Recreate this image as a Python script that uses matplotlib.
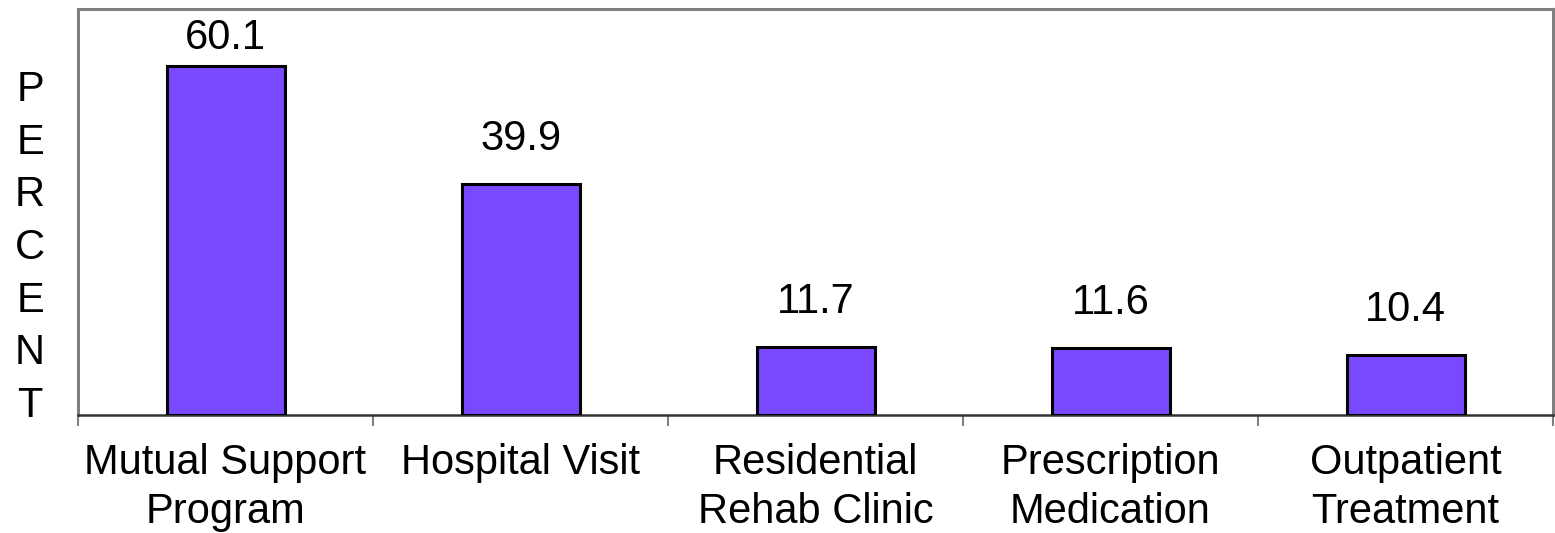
import matplotlib
matplotlib.use("Agg")
import matplotlib.pyplot as plt
import numpy as np

categories = ["Mutual Support\nProgram", "Hospital Visit", "Residential\nRehab Clinic",
              "Prescription\nMedication", "Outpatient\nTreatment"]
values = [60.1, 39.9, 11.7, 11.6, 10.4]

plt.rcParams['font.family'] = ['Liberation Sans', 'DejaVu Sans']

fig = plt.figure(figsize=(15.55, 5.33), dpi=100)
ax = fig.add_axes([78/1555, 118/533, (1553-78)/1555, (415-9)/533])

x = np.arange(len(categories))
ax.bar(x, values, width=0.40, color='#7849FF', edgecolor='black', linewidth=2.2, zorder=3)

ax.set_xlim(-0.5, len(categories) - 0.5)
ax.set_ylim(0, 70)

for xi, v in zip(x, values):
    y = min(v + 4.3, 61.5)
    ax.text(xi, y, f"{v:.1f}", ha='center', va='bottom', fontsize=30)

ax.set_xticks(x)
ax.set_xticklabels(categories, fontsize=30, va='top', linespacing=1.3)
ax.tick_params(axis='x', which='major', length=0, pad=20)
ax.set_xticks(np.arange(-0.5, len(categories)), minor=True)
ax.tick_params(axis='x', which='minor', length=8, width=1.5, color='#808080', direction='out')
ax.set_yticks([])

for s in ['top', 'left', 'right']:
    ax.spines[s].set_color('#808080')
    ax.spines[s].set_linewidth(2.2)
ax.spines['bottom'].set_color('#333333')
ax.spines['bottom'].set_linewidth(1.8)

fig.text(30/1555, 1 - 248/533, "P\nE\nR\nC\nE\nN\nT", ha='center', va='center',
         fontsize=30, linespacing=1.41)

fig.savefig("out.png", dpi=100)
